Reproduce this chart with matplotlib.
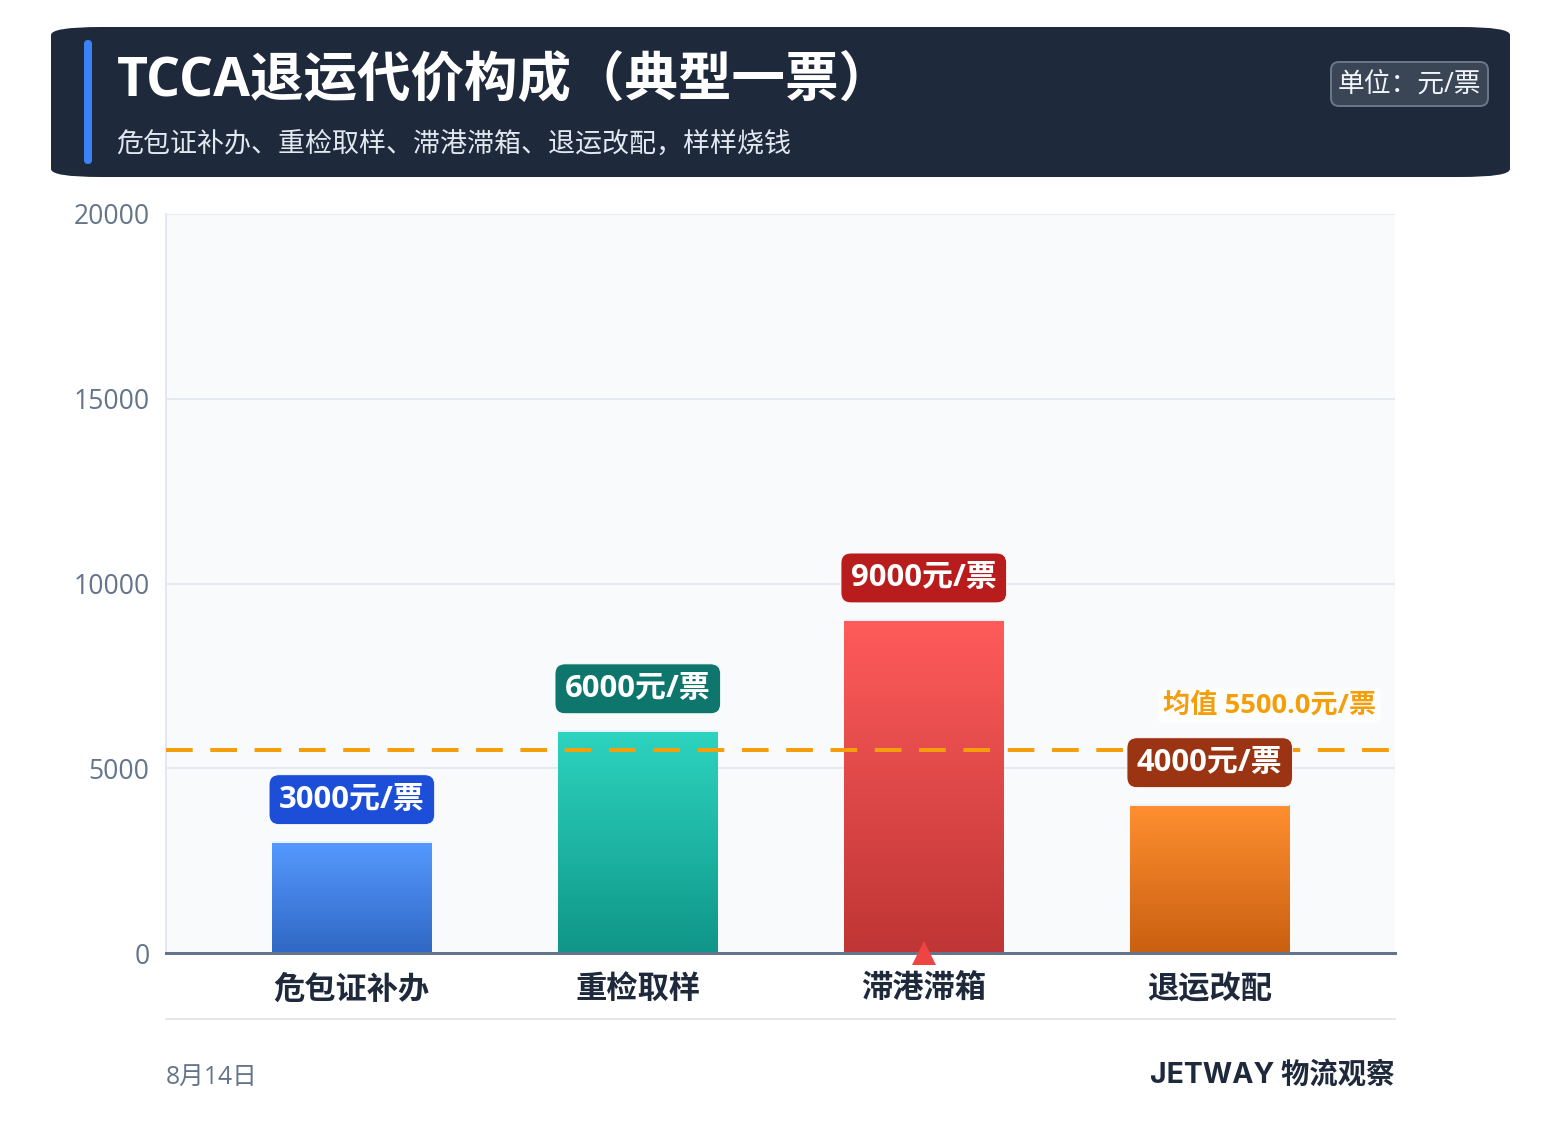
import numpy as np
import matplotlib
matplotlib.use("Agg")
import matplotlib.pyplot as plt
from matplotlib.colors import LinearSegmentedColormap
from matplotlib.patches import FancyBboxPatch, PathPatch
from matplotlib.path import Path

plt.rcParams['font.family'] = ['Open Sans', 'Noto Sans CJK SC', 'DejaVu Sans']
brand_font = ['Inter', 'Noto Sans CJK SC', 'DejaVu Sans']

# 数据
categories = ["危包证补办", "重检取样", "滞港滞箱", "退运改配"]
values = [3000, 6000, 9000, 4000]
mean_value = 5500.0
unit = "元/票"
y_ticks = [0, 5000, 10000, 15000, 20000]

title = "TCCA退运代价构成（典型一票）"
subtitle = "危包证补办、重检取样、滞港滞箱、退运改配，样样烧钱"
unit_note = "单位：元/票"
date_note = "8月14日"
brand_note = "JETWAY 物流观察"

top_colors = ["#5599ff", "#2dd4bf", "#ff5b5b", "#ff8f30"]
bottom_colors = ["#3068c4", "#0f9688", "#bf3535", "#c95f10"]
pill_colors = ["#1d4ed8", "#0f766e", "#b91c1c", "#9a3412"]

W, H = 1561, 1145
fig = plt.figure(figsize=(W / 100, H / 100), dpi=100, facecolor="white")
px = 0.72  # 1像素对应的磅数

# 主图区域
ax = fig.add_axes([166 / W, 1 - 953 / H, (1395 - 166) / W, (953 - 214) / H])
ax.set_facecolor("#f8fafc")
x = np.arange(len(categories))
bar_w = 0.558
ax.set_xlim(-0.65, 3.648)
ax.set_ylim(0, 20000)

ax.set_axisbelow(True)
ax.yaxis.grid(True, color="#e5e9f0", linewidth=2 * px)
ax.xaxis.grid(False)

bars = ax.bar(x, values, width=bar_w, facecolor="none", edgecolor="none", zorder=3)

# 渐变填充
grad = np.linspace(1, 0, 256).reshape(-1, 1)
for i, b in enumerate(bars):
    cmap = LinearSegmentedColormap.from_list(f"g{i}", [bottom_colors[i], top_colors[i]])
    im = ax.imshow(grad, extent=(x[i] - bar_w / 2, x[i] + bar_w / 2, 0, values[i]),
                   aspect="auto", cmap=cmap, vmin=0, vmax=1, zorder=2, origin="upper")
    im.set_clip_path(b)
ax.hlines(values, x - bar_w / 2, x + bar_w / 2, color="#eef2f8", linewidth=2 * px, zorder=3)
ax.set_xlim(-0.65, 3.648)
ax.set_ylim(0, 20000)

# 均值线
ax.axhline(mean_value, color="#f59e0b", linewidth=4 * px, zorder=4,
           linestyle=(0, (26.7 / 4, 17.6 / 4)), dash_capstyle="butt")
ax.annotate(f"均值 {mean_value:.1f}{unit}", xy=(1, mean_value), xycoords=("axes fraction", "data"),
            xytext=(-19 * px, 44 * px), textcoords="offset points", ha="right", va="center",
            fontsize=27.2 * px, fontweight="bold", color="#f59e0b", zorder=5,
            bbox=dict(boxstyle="round,pad=0.17,rounding_size=0.2", fc="#ffffff", ec="none", alpha=0.85))

# 数值标签
for i, v in enumerate(values):
    ax.annotate(f"{v}{unit}", xy=(x[i], v), xytext=(0, 42.5 * px), textcoords="offset points",
                ha="center", va="center", fontsize=31 * px, fontweight="bold", color="white",
                zorder=6,
                bbox=dict(boxstyle="round,pad=0.32,rounding_size=0.32", fc=pill_colors[i],
                          ec="#ffffff", lw=0.6))

# 最大值三角
peak = int(np.argmax(values))
ax.plot(x[peak], 0, marker="^", markersize=24 * px, color="#ef4444", markeredgewidth=0,
        clip_on=False, zorder=7)

ax.set_xticks(x, categories)
ax.set_yticks(y_ticks)
ax.tick_params(axis="y", length=0, pad=16.5 * px, labelsize=26.5 * px, labelcolor="#64748b")
ax.tick_params(axis="x", length=0, pad=22 * px, labelsize=31.3 * px, labelcolor="#1e293b")
for t in ax.get_xticklabels():
    t.set_fontweight("bold")

for s in ["top", "right"]:
    ax.spines[s].set_visible(False)
ax.spines["left"].set_color("#e2e8f0")
ax.spines["left"].set_linewidth(2 * px)
ax.spines["bottom"].set_color("#64748b")
ax.spines["bottom"].set_linewidth(3 * px)
ax.spines["bottom"].set_zorder(2.5)

# 页眉和页脚，按像素坐标放置
ov = fig.add_axes([0, 0, 1, 1], zorder=10)
ov.set_xlim(0, W)
ov.set_ylim(H, 0)
ov.axis("off")
ov.patch.set_alpha(0)

l, r, t, b = 51, 1510, 27, 177
rx, ry = 50, 8
verts = [(l + rx, t), (r - rx, t), (r, t), (r, t + ry), (r, b - ry), (r, b), (r - rx, b),
         (l + rx, b), (l, b), (l, b - ry), (l, t + ry), (l, t), (l + rx, t), (l + rx, t)]
codes = [Path.MOVETO, Path.LINETO, Path.CURVE3, Path.CURVE3, Path.LINETO, Path.CURVE3, Path.CURVE3,
         Path.LINETO, Path.CURVE3, Path.CURVE3, Path.LINETO, Path.CURVE3, Path.CURVE3, Path.CLOSEPOLY]
ov.add_patch(PathPatch(Path(verts, codes), fc="#1e293b", ec="none"))

ov.add_patch(FancyBboxPatch((84, 40), 8, 124, boxstyle="round,pad=0,rounding_size=4",
                            fc="#3b82f6", ec="none"))
ov.text(117, 82, title, fontsize=53.5 * px, fontweight="bold", color="white", va="center", ha="left")
ov.text(116.5, 145, subtitle, fontsize=27 * px, color="#e2e8f0", va="center", ha="left")

ov.add_patch(FancyBboxPatch((1331, 62), 157, 44, boxstyle="round,pad=0,rounding_size=8",
                            fc="#3a4556", ec="#6b7686", lw=2 * px))
ov.text(1409.5, 85, unit_note, fontsize=26.8 * px, color="#f1f5f9", va="center", ha="center")

ov.plot([166, 1395], [1019, 1019], color="#e5e7eb", linewidth=2 * px)
ov.text(166, 1077, date_note, fontsize=24.7 * px, color="#64748b", va="center", ha="left")
ov.text(1395, 1075, brand_note, fontsize=28.4 * px, fontweight="bold", color="#1e293b",
        va="center", ha="right", family=brand_font)

fig.savefig("out.png", dpi=100)
